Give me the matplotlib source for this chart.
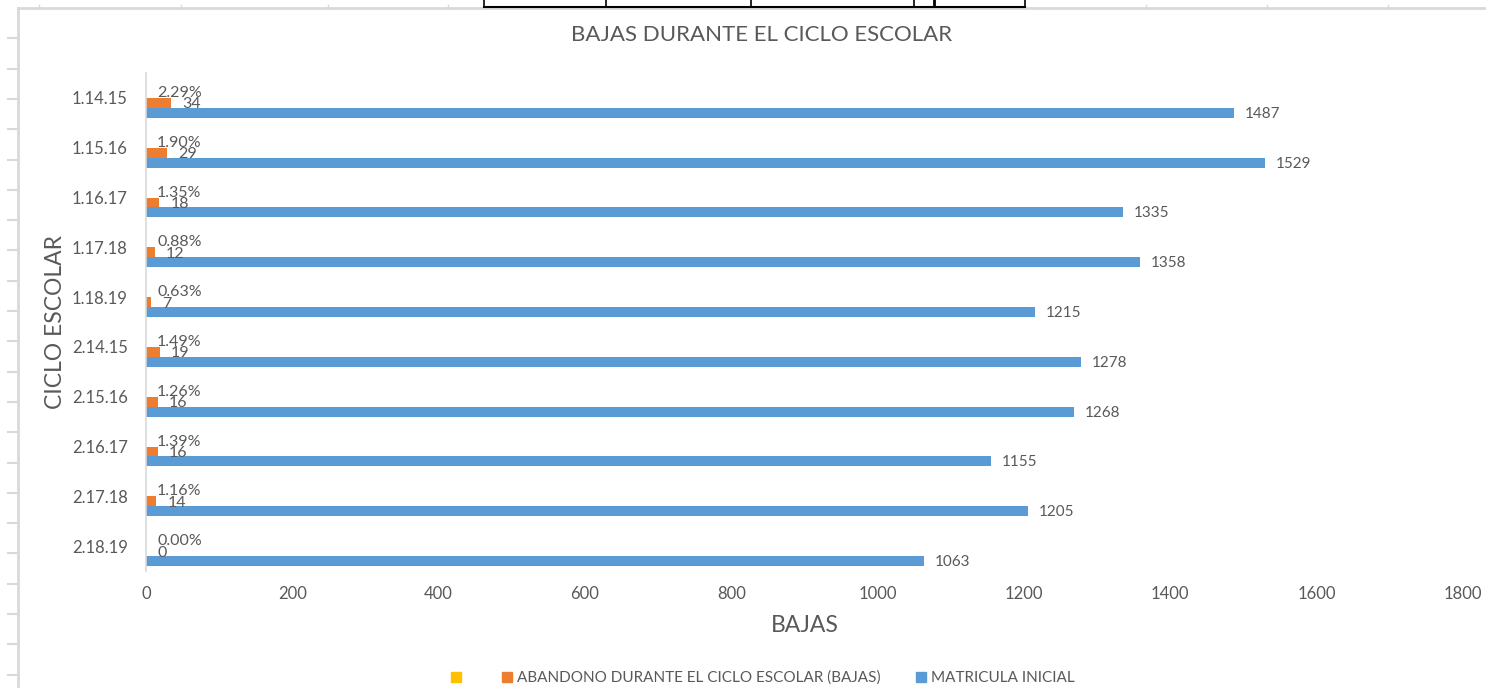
import matplotlib
matplotlib.use("Agg")
import matplotlib.pyplot as plt
from matplotlib.patches import Patch
from matplotlib.lines import Line2D

categories = ["1.14.15", "1.15.16", "1.16.17", "1.17.18", "1.18.19",
              "2.14.15", "2.15.16", "2.16.17", "2.17.18", "2.18.19"]
pct_values = [0.0229, 0.0190, 0.0135, 0.0088, 0.0063, 0.0149, 0.0126, 0.0139, 0.0116, 0.0000]
bajas_values = [34, 29, 18, 12, 7, 19, 16, 16, 14, 0]
matricula_values = [1487, 1529, 1335, 1358, 1215, 1278, 1268, 1155, 1205, 1063]
series_names = ["", "ABANDONO DURANTE EL CICLO ESCOLAR (BAJAS)", "MATRICULA INICIAL"]
x_ticks = [0, 200, 400, 600, 800, 1000, 1200, 1400, 1600, 1800]

BLUE = "#5B9BD5"
ORANGE = "#ED7D31"
YELLOW = "#FFC000"
TXT = "#595959"
FONT = "Lato"

W, H = 1486, 688
fig = plt.figure(figsize=(W / 100, H / 100), dpi=100)
plt.rcParams["font.family"] = [FONT, "DejaVu Sans"]

def fx(px):
    return px / W

def fy(py):
    return 1 - py / H

ax = fig.add_axes([fx(146), fy(571), fx(1463) - fx(146), fy(73) - fy(571)])

pos = list(range(len(categories)))
h = 0.2
ax.barh([p - 0.1 for p in pos], pct_values, height=h, color=YELLOW)
ax.barh([p + 0.1 for p in pos], bajas_values, height=h, color=ORANGE)
ax.barh([p + 0.3 for p in pos], matricula_values, height=h, color=BLUE)

off = 8.0  # points (~11 px)
for p, v, b, m in zip(pos, pct_values, bajas_values, matricula_values):
    ax.annotate(f"{v*100:.2f}%", (v, p - 0.1), xytext=(off, 0), textcoords="offset points",
                ha="left", va="center", fontsize=11.5, color=TXT)
    ax.annotate(f"{b}", (b, p + 0.13), xytext=(off, 0), textcoords="offset points",
                ha="left", va="center", fontsize=11.5, color=TXT)
    ax.annotate(f"{m}", (m, p + 0.32), xytext=(off, 0), textcoords="offset points",
                ha="left", va="center", fontsize=11, color=TXT)

ax.set_xlim(0, 1800)
ax.set_ylim(len(categories) - 0.5, -0.5)
ax.set_xticks(x_ticks)
ax.set_xticklabels([str(t) for t in x_ticks])
ax.set_yticks(pos)
ax.set_yticklabels(categories)
ax.tick_params(axis="x", length=0, pad=11, labelsize=12, labelcolor=TXT)
ax.tick_params(axis="y", length=0, pad=13, labelsize=12, labelcolor=TXT)
for s in ["top", "right", "bottom"]:
    ax.spines[s].set_visible(False)
ax.spines["left"].set_color("#D9D9D9")
ax.spines["left"].set_linewidth(1.2)

fig.text(fx(762), fy(35), "BAJAS DURANTE EL CICLO ESCOLAR", ha="center", va="center",
         fontsize=16, color=TXT)
fig.text(fx(805), fy(625), "BAJAS", ha="center", va="center", fontsize=16.5, color=TXT)
fig.text(fx(55), fy(322), "CICLO ESCOLAR", ha="center", va="center", rotation=90,
         fontsize=16.5, color=TXT)

handles = [Patch(color=YELLOW), Patch(color=ORANGE), Patch(color=BLUE)]
fig.legend(handles, series_names, loc="center", bbox_to_anchor=(fx(763), fy(678)), ncol=3,
           frameon=False, fontsize=11, handlelength=0.65, handleheight=0.65, handletextpad=0.35,
           columnspacing=2.3, labelcolor=TXT)

# spreadsheet artifacts around the chart
GR = "#D9D9D9"
fig.add_artist(Line2D([fx(18), fx(1486)], [fy(8), fy(8)], color=GR, lw=2))
fig.add_artist(Line2D([fx(18), fx(18)], [fy(8), fy(688)], color=GR, lw=2))
for k in range(23):
    yy = 8 + 30.3 * k
    if yy > 8:
        fig.add_artist(Line2D([fx(8), fx(18)], [fy(yy), fy(yy)], color=GR, lw=1.5))
for xx in [39, 181, 328, 448, 1146, 1267, 1388]:
    fig.add_artist(Line2D([fx(xx), fx(xx)], [fy(5), fy(8)], color=GR, lw=1))
fig.add_artist(Line2D([fx(484), fx(1025)], [fy(7), fy(7)], color="black", lw=1.5))
for xx in [484, 606, 751, 914, 1025]:
    fig.add_artist(Line2D([fx(xx), fx(xx)], [fy(0), fy(7)], color="black", lw=1.2))
fig.add_artist(Line2D([fx(934), fx(934)], [fy(0), fy(5)], color="black", lw=2))

fig.savefig("out.png", dpi=100, facecolor="white")
